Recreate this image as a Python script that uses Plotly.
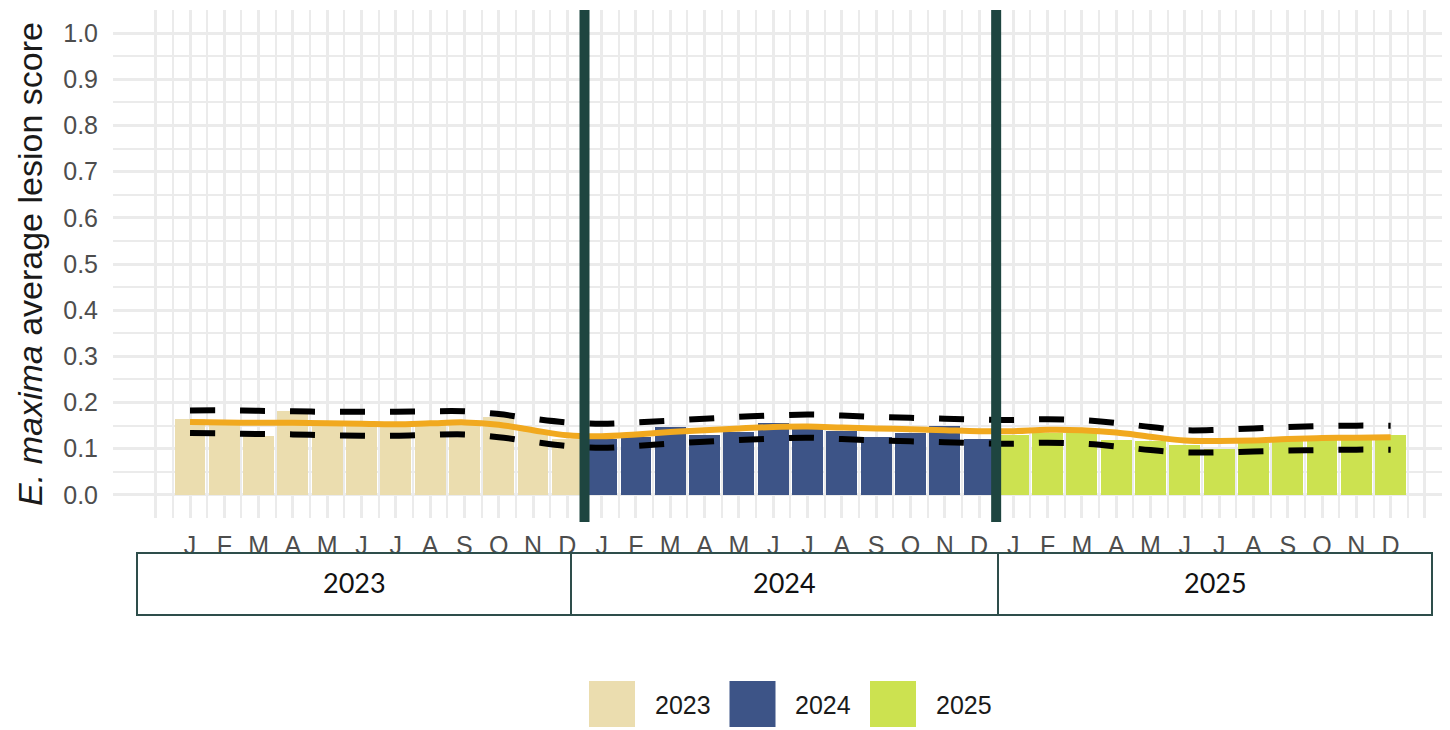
import plotly.graph_objects as go

# monthly data, Jan 2023 .. Dec 2025
years = ["2023", "2024", "2025"]
months = ["J", "F", "M", "A", "M", "J", "J", "A", "S", "O", "N", "D"]
year_colors = ["#EBDDAF", "#3D5487", "#CCE250"]

score_2023 = [0.164, 0.158, 0.128, 0.182, 0.153, 0.151, 0.150, 0.154, 0.156, 0.168, 0.141, 0.121]
score_2024 = [0.122, 0.125, 0.147, 0.130, 0.137, 0.156, 0.150, 0.138, 0.126, 0.134, 0.149, 0.121]
score_2025 = [0.130, 0.134, 0.133, 0.119, 0.116, 0.108, 0.100, 0.113, 0.120, 0.125, 0.126, 0.130]

trend = [0.158, 0.157, 0.156, 0.156, 0.155, 0.154, 0.153, 0.155, 0.157, 0.152, 0.140, 0.129,
         0.127, 0.131, 0.136, 0.140, 0.144, 0.147, 0.148, 0.146, 0.144, 0.142, 0.140, 0.138,
         0.138, 0.141, 0.140, 0.135, 0.126, 0.118, 0.117, 0.118, 0.121, 0.123, 0.124, 0.125]
trend_upper = [0.183, 0.183, 0.182, 0.181, 0.180, 0.180, 0.180, 0.181, 0.181, 0.175, 0.165, 0.157,
               0.154, 0.157, 0.161, 0.165, 0.169, 0.172, 0.174, 0.172, 0.169, 0.167, 0.165, 0.163,
               0.162, 0.164, 0.162, 0.156, 0.147, 0.140, 0.141, 0.144, 0.147, 0.149, 0.150, 0.150]
trend_lower = [0.134, 0.133, 0.132, 0.131, 0.129, 0.128, 0.128, 0.130, 0.131, 0.125, 0.115, 0.106,
               0.102, 0.106, 0.111, 0.115, 0.119, 0.122, 0.124, 0.121, 0.118, 0.116, 0.114, 0.112,
               0.111, 0.113, 0.111, 0.105, 0.097, 0.092, 0.092, 0.094, 0.096, 0.097, 0.098, 0.098]

year_breaks = [11.5, 23.5]

scores = [score_2023, score_2024, score_2025]
month_idx = list(range(36))

# page body has an 8px margin, so the figure is drawn 8px smaller and all
# pixel positions below are given in screenshot coordinates minus that offset
OFF = 8
W, H = 1450 - OFF, 730 - OFF
L, R, T, B = 113 - OFF, 0, 10 - OFF, 730 - 518
PW, PH = W - L - R, H - T - B


def px(x):
    return (x - OFF - L) / PW


def py(y):
    return (H - B - (y - OFF)) / PH


fig = go.Figure()

for k, (yr, vals) in enumerate(zip(years, scores)):
    fig.add_trace(go.Bar(
        x=[k * 12 + m for m in range(12)], y=vals, width=0.9,
        marker_color=year_colors[k], marker_line_width=0, name=yr, showlegend=False,
    ))

fig.add_trace(go.Scatter(
    x=month_idx, y=trend, mode="lines", line=dict(color="#F1A91F", width=6, shape="spline"),
    showlegend=False,
))
for band in (trend_upper, trend_lower):
    fig.add_trace(go.Scatter(
        x=month_idx, y=band, mode="lines",
        line=dict(color="black", width=6, dash="25px,25px", shape="spline"),
        showlegend=False,
    ))

for xb in year_breaks:
    fig.add_shape(type="line", x0=xb, x1=xb, xref="x", yref="paper", y0=-0.008, y1=1.0,
                  line=dict(color="#1E4540", width=10))

# year strip under the month labels
strip = [(137, 571), (571, 998), (998, 1432)]
for (x0, x1), yr in zip(strip, years):
    fig.add_shape(type="rect", xref="paper", yref="paper",
                  x0=px(x0), x1=px(x1), y0=py(615), y1=py(553),
                  line=dict(color="#2E4E4B", width=2), fillcolor="rgba(0,0,0,0)")
    fig.add_annotation(text=yr, xref="paper", yref="paper", x=px((x0 + x1) / 2), y=py(582),
                       xanchor="center", yanchor="middle", showarrow=False,
                       font=dict(family="Lato", size=27, color="#111111"))

# legend
for k, (yr, col) in enumerate(zip(years, year_colors)):
    sx = 589 + k * 140.5
    fig.add_shape(type="rect", xref="paper", yref="paper",
                  x0=px(sx), x1=px(sx + 46), y0=py(727), y1=py(681),
                  line=dict(width=0), fillcolor=col)
    fig.add_annotation(text=yr, xref="paper", yref="paper", x=px(sx + 64), y=py(705),
                       xanchor="left", yanchor="middle", showarrow=False,
                       font=dict(family="Liberation Sans", size=25, color="#1A1A1A"))

grid = "#EBEBEB"
fig.update_layout(
    width=W, height=H,
    margin=dict(l=L, r=R, t=T, b=B, autoexpand=False),
    plot_bgcolor="white", paper_bgcolor="white",
    bargap=0,
    font=dict(family="Liberation Sans", color="#4D4D4D"),
    xaxis=dict(
        range=[-2.245, 36.73],
        automargin=False,
        tickmode="array",
        tickvals=list(range(-1, 37)),
        ticktext=[""] + months * 3 + [""],
        tickfont=dict(size=25, color="#4D4D4D"),
        ticks="", ticklabelstandoff=10,
        showgrid=True, gridcolor=grid, gridwidth=2.5, zeroline=False,
        minor=dict(tickvals=[i + 0.5 for i in range(-1, 36)], showgrid=True, gridcolor=grid, gridwidth=1.5),
    ),
    yaxis=dict(
        range=[-0.05, 1.05],
        automargin=False,
        tickmode="array",
        tickvals=[i / 10 for i in range(11)],
        tickformat=".1f",
        tickfont=dict(size=25, color="#4D4D4D"),
        ticks="", ticklabelstandoff=14,
        showgrid=True, gridcolor=grid, gridwidth=2.5, zeroline=False,
        minor=dict(tickvals=[-0.05 + i / 10 for i in range(11)], showgrid=True, gridcolor=grid, gridwidth=1.5),
        title=dict(text="<i>E. maxima</i> average lesion score", standoff=10,
                   font=dict(size=34, color="#1A1A1A")),
    ),
)

fig.write_html("out.html")
